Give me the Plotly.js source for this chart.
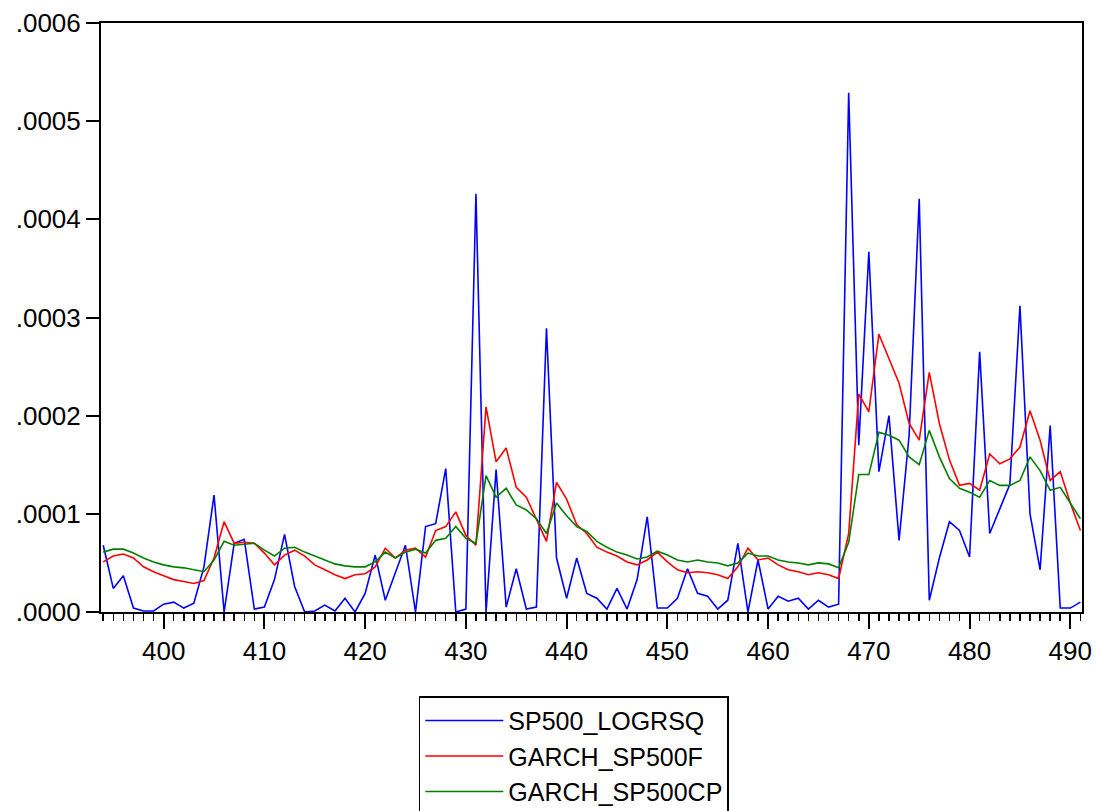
<!DOCTYPE html>
<html>
<head>
<meta charset="utf-8">
<script src="https://cdn.plot.ly/plotly-3.0.1.min.js"></script>
<style>html,body{margin:0;padding:0;background:#fff;}#chart{width:1096px;height:811px;}</style>
</head>
<body>
<div id="chart"></div>
<script>
// Observation numbers 394 .. 491
const obs = [394,395,396,397,398,399,400,401,402,403,404,405,406,407,408,409,410,411,412,413,414,415,416,417,418,419,420,421,422,423,424,425,426,427,428,429,430,431,432,433,434,435,436,437,438,439,440,441,442,443,444,445,446,447,448,449,450,451,452,453,454,455,456,457,458,459,460,461,462,463,464,465,466,467,468,469,470,471,472,473,474,475,476,477,478,479,480,481,482,483,484,485,486,487,488,489,490,491];

const sp500_logrsq = [0.68e-4,0.24e-4,0.37e-4,0.04e-4,0.01e-4,0.01e-4,0.08e-4,0.10e-4,0.04e-4,0.09e-4,
  0.46e-4,1.19e-4,0.00e-4,0.70e-4,0.74e-4,0.03e-4,0.05e-4,0.33e-4,0.79e-4,0.26e-4,
  0.00e-4,0.01e-4,0.07e-4,0.01e-4,0.14e-4,0.00e-4,0.19e-4,0.58e-4,0.12e-4,0.39e-4,
  0.68e-4,0.00e-4,0.87e-4,0.90e-4,1.46e-4,0.00e-4,0.03e-4,4.26e-4,0.00e-4,1.45e-4,
  0.05e-4,0.44e-4,0.03e-4,0.05e-4,2.89e-4,0.55e-4,0.14e-4,0.55e-4,0.19e-4,0.14e-4,
  0.03e-4,0.24e-4,0.03e-4,0.33e-4,0.97e-4,0.04e-4,0.04e-4,0.14e-4,0.44e-4,0.19e-4,
  0.16e-4,0.03e-4,0.12e-4,0.70e-4,0.00e-4,0.53e-4,0.03e-4,0.16e-4,0.11e-4,0.14e-4,
  0.03e-4,0.12e-4,0.05e-4,0.08e-4,5.29e-4,1.70e-4,3.67e-4,1.43e-4,2.00e-4,0.73e-4,
  1.80e-4,4.21e-4,0.12e-4,0.55e-4,0.92e-4,0.83e-4,0.56e-4,2.65e-4,0.80e-4,1.05e-4,
  1.30e-4,3.12e-4,1.00e-4,0.43e-4,1.90e-4,0.04e-4,0.04e-4,0.10e-4];

const garch_sp500f = [0.51e-4,0.57e-4,0.59e-4,0.55e-4,0.46e-4,0.41e-4,0.37e-4,0.33e-4,0.31e-4,0.29e-4,
  0.32e-4,0.55e-4,0.92e-4,0.70e-4,0.71e-4,0.70e-4,0.60e-4,0.48e-4,0.58e-4,0.63e-4,
  0.57e-4,0.48e-4,0.43e-4,0.38e-4,0.34e-4,0.38e-4,0.39e-4,0.46e-4,0.65e-4,0.55e-4,
  0.63e-4,0.65e-4,0.56e-4,0.83e-4,0.87e-4,1.02e-4,0.78e-4,0.68e-4,2.09e-4,1.53e-4,
  1.67e-4,1.27e-4,1.17e-4,0.94e-4,0.72e-4,1.32e-4,1.15e-4,0.89e-4,0.80e-4,0.66e-4,
  0.61e-4,0.57e-4,0.51e-4,0.48e-4,0.53e-4,0.61e-4,0.51e-4,0.43e-4,0.40e-4,0.41e-4,
  0.40e-4,0.38e-4,0.34e-4,0.46e-4,0.65e-4,0.53e-4,0.55e-4,0.48e-4,0.43e-4,0.41e-4,
  0.38e-4,0.40e-4,0.38e-4,0.34e-4,0.80e-4,2.22e-4,2.04e-4,2.83e-4,2.58e-4,2.33e-4,
  1.92e-4,1.75e-4,2.44e-4,1.92e-4,1.55e-4,1.29e-4,1.31e-4,1.24e-4,1.61e-4,1.51e-4,
  1.56e-4,1.68e-4,2.05e-4,1.75e-4,1.34e-4,1.43e-4,1.11e-4,0.83e-4];

const garch_sp500cp = [0.61e-4,0.64e-4,0.64e-4,0.60e-4,0.55e-4,0.51e-4,0.48e-4,0.46e-4,0.45e-4,0.43e-4,
  0.41e-4,0.53e-4,0.72e-4,0.68e-4,0.69e-4,0.70e-4,0.63e-4,0.57e-4,0.65e-4,0.66e-4,
  0.61e-4,0.57e-4,0.53e-4,0.49e-4,0.47e-4,0.46e-4,0.46e-4,0.51e-4,0.61e-4,0.55e-4,
  0.61e-4,0.64e-4,0.60e-4,0.73e-4,0.75e-4,0.87e-4,0.75e-4,0.70e-4,1.39e-4,1.17e-4,
  1.26e-4,1.09e-4,1.04e-4,0.95e-4,0.80e-4,1.11e-4,0.98e-4,0.87e-4,0.82e-4,0.72e-4,
  0.66e-4,0.61e-4,0.58e-4,0.54e-4,0.56e-4,0.62e-4,0.58e-4,0.53e-4,0.51e-4,0.53e-4,
  0.51e-4,0.50e-4,0.47e-4,0.50e-4,0.60e-4,0.57e-4,0.57e-4,0.53e-4,0.51e-4,0.50e-4,
  0.48e-4,0.50e-4,0.49e-4,0.45e-4,0.71e-4,1.40e-4,1.40e-4,1.83e-4,1.80e-4,1.75e-4,
  1.58e-4,1.50e-4,1.85e-4,1.58e-4,1.36e-4,1.26e-4,1.22e-4,1.17e-4,1.34e-4,1.29e-4,
  1.29e-4,1.34e-4,1.58e-4,1.44e-4,1.24e-4,1.27e-4,1.11e-4,0.95e-4];

const seriesNames = ["SP500_LOGRSQ", "GARCH_SP500F", "GARCH_SP500CP"];
const yTickVals = [0, 0.0001, 0.0002, 0.0003, 0.0004, 0.0005, 0.0006];
const yTickText = [".0000", ".0001", ".0002", ".0003", ".0004", ".0005", ".0006"];

const FONT = "Arial, 'Liberation Sans', sans-serif";

const traces = [
  {x: obs, y: sp500_logrsq, name: seriesNames[0], type: "scatter", mode: "lines",
   line: {color: "#0000ff", width: 1.6}},
  {x: obs, y: garch_sp500f, name: seriesNames[1], type: "scatter", mode: "lines",
   line: {color: "#ff0000", width: 1.6}},
  {x: obs, y: garch_sp500cp, name: seriesNames[2], type: "scatter", mode: "lines",
   line: {color: "#008000", width: 1.6}}
];

const layout = {
  width: 1096, height: 811,
  margin: {l: 101, r: 14, t: 23, b: 199, pad: 0, autoexpand: false},
  paper_bgcolor: "#ffffff", plot_bgcolor: "#ffffff",
  font: {family: FONT, size: 26, color: "#000000"},
  showlegend: true,
  legend: {
    x: 0.324, y: -0.143, xanchor: "left", yanchor: "top",
    orientation: "v", bgcolor: "#ffffff", bordercolor: "#000000", borderwidth: 1.5,
    font: {family: FONT, size: 25, color: "#000000"},
    itemwidth: 78, traceorder: "normal"
  },
  xaxis: {
    range: [393.78, 491.16], showgrid: false, zeroline: false,
    showline: true, linecolor: "#000000", linewidth: 2, mirror: true,
    ticks: "outside", ticklen: 15, tickwidth: 2, tickcolor: "#000000",
    tick0: 400, dtick: 10,
    tickfont: {family: FONT, size: 26, color: "#000000"},
    minor: {dtick: 1, tick0: 400, ticks: "outside", ticklen: 7, tickwidth: 1.5, tickcolor: "#000000", showgrid: false}
  },
  yaxis: {
    range: [0, 0.0006], showgrid: false, zeroline: false,
    showline: true, linecolor: "#000000", linewidth: 2, mirror: true,
    ticks: "outside", ticklen: 13, tickwidth: 2, tickcolor: "#000000",
    tickmode: "array", tickvals: yTickVals, ticktext: yTickText,
    tickfont: {family: FONT, size: 26, color: "#000000"}
  }
};

Plotly.newPlot("chart", traces, layout, {displayModeBar: false, staticPlot: true});
</script>
</body>
</html>
